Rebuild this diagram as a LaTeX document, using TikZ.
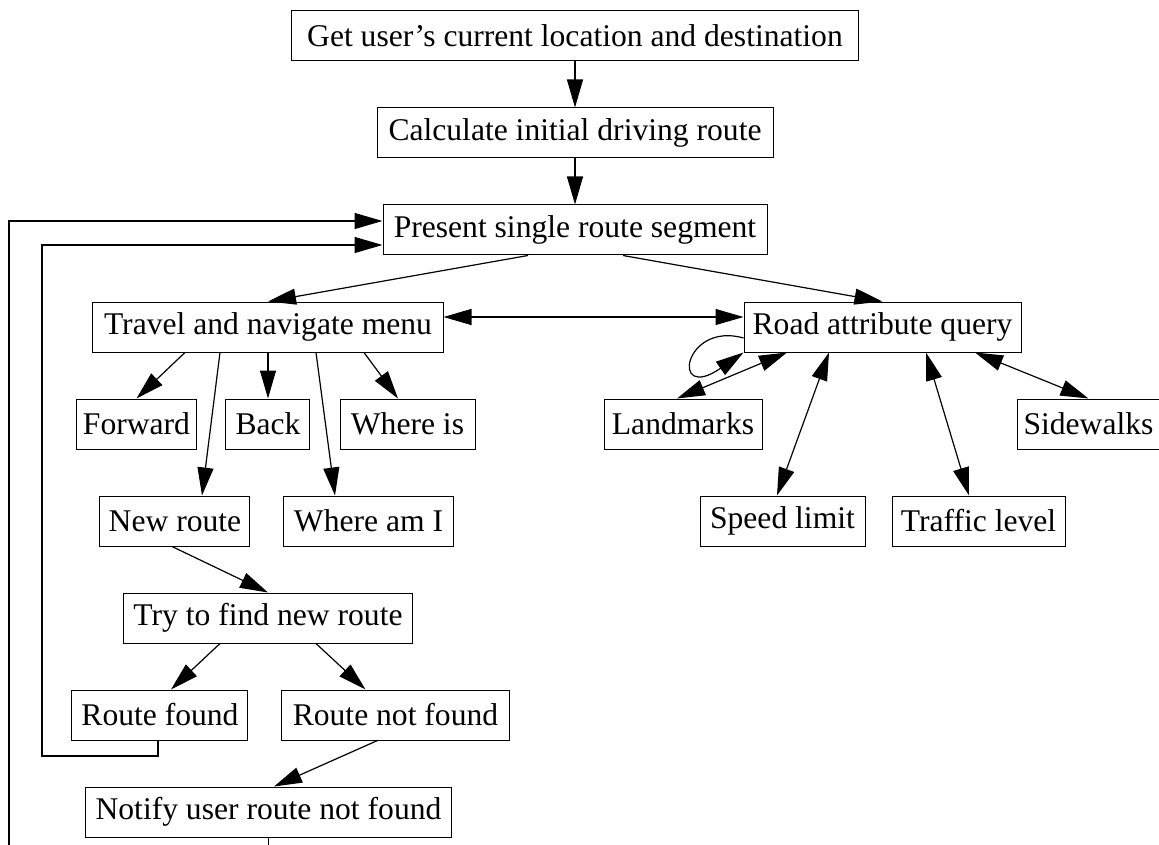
\documentclass[tikz,border=0pt]{standalone}
\usepackage{fontspec}
\setmainfont{Liberation Serif}
\usetikzlibrary{positioning,arrows.meta}

\begin{document}
\begin{tikzpicture}[
    node distance=23pt,
    box/.style={draw, rectangle, line width=0.5pt, minimum height=25pt,
      inner xsep=3pt, inner ysep=2pt, font=\fontsize{15.8}{19}\selectfont},
    arr/.style={line width=0.6pt, -{Triangle[length=14pt,width=8pt]}},
    darr/.style={line width=0.6pt, {Triangle[length=14pt,width=8pt]}-{Triangle[length=14pt,width=8pt]}},
  ]

    \path[use as bounding box, clip] (-287.5pt,18pt) rectangle (292pt,-404pt);

    % Define nodes
    \node[box, minimum width=283pt]                                (get) {Get user's current location and destination};
    \node[box, minimum width=198pt, below=of get]                  (calc) {Calculate initial driving route};
    \node[box, minimum width=192pt, below=of calc]                 (present) {Present single route segment};

    \node[box, minimum width=175pt, below=of present, xshift=-153.5pt] (travel) {Travel and navigate menu};
    \node[box, minimum width=138.5pt, below=of present, xshift=153.75pt] (road) {Road attribute query};

    \node[box, minimum width=59.5pt, below=of travel, xshift=-65.75pt] (fwd) {Forward};
    \node[box, minimum width=42pt, below=of travel]                (back) {Back};
    \node[box, minimum width=67.5pt, below=of travel, xshift=69.75pt] (whereis) {Where is};

    \node[box, minimum width=79pt, below=of road, xshift=-99.75pt] (lm) {Landmarks};
    \node[box, minimum width=70.5pt, below=of road, xshift=103pt]  (sw) {Sidewalks};

    \node[box, minimum width=75pt, below=of fwd, xshift=19.25pt]   (newr) {New route};
    \node[box, minimum width=84.5pt, below=of back, xshift=50.25pt] (whereami) {Where am I};

    \node[box, minimum width=82.5pt, below=of lm, xshift=49.75pt]  (speed) {Speed limit};
    \node[box, minimum width=86.5pt, below=of lm, xshift=147.75pt] (traffic) {Traffic level};

    \node[box, minimum width=144pt, below=of newr, xshift=46.5pt]  (try) {Try to find new route};
    \node[box, minimum width=88pt, below=of try, xshift=-54pt]     (found) {Route found};
    \node[box, minimum width=113.5pt, below=of try, xshift=63.75pt] (notfound) {Route not found};
    \node[box, minimum width=182.5pt, below=of found, xshift=54.25pt] (notify) {Notify user route not found};

    \coordinate (inner) at (-266.5pt,-360pt);
    \coordinate (outer) at (-283pt,-412pt);

    % Connect the nodes
    \draw[arr] (get) -- (calc);
    \draw[arr] (calc) -- (present);
    \draw[arr] ([xshift=-23.5pt]present.south) -- (travel.north);
    \draw[arr] ([xshift=24pt]present.south) -- (road.north);
    \draw[darr] ([yshift=5pt]travel.east) -- ([yshift=5pt]road.west);

    \draw[arr] ([xshift=-41.5pt]travel.south) -- (fwd.north);
    \draw[arr] (travel.south) -- (back.north);
    \draw[arr] ([xshift=48pt]travel.south) -- ([xshift=-4.75pt]whereis.north);
    \draw[arr] ([xshift=-24pt]travel.south) -- ([xshift=13.5pt]newr.north);
    \draw[arr] ([xshift=24pt]travel.south) -- ([xshift=-16.75pt]whereami.north);

    \draw[arr] ([yshift=-5.5pt]road.west) .. controls +(-30pt,8.5pt) and +(-37pt,-25.5pt) .. (road.south west);
    \draw[darr] ([xshift=-47.75pt]road.south) -- ([xshift=-3pt]lm.north);
    \draw[darr] ([xshift=-26.75pt]road.south) -- ([xshift=-2.75pt]speed.north);
    \draw[darr] ([xshift=21.75pt]road.south) -- ([xshift=-4.75pt]traffic.north);
    \draw[darr] ([xshift=46.25pt]road.south) -- (sw.north);

    \draw[arr] ([xshift=-1.5pt]newr.south) -- (try.north);
    \draw[arr] ([xshift=-24pt]try.south) -- ([xshift=5.5pt]found.north);
    \draw[arr] ([xshift=24pt]try.south) -- ([xshift=-15pt]notfound.north);
    \draw[arr] ([xshift=-9pt]notfound.south) -- ([xshift=2.75pt]notify.north);

    % Loops back to the route segment
    \draw[arr] ([xshift=-1pt]found.south) |- (inner) |- ([yshift=-7.5pt]present.west);
    \draw[arr] (notify.south) |- (outer) |- ([yshift=4.5pt]present.west);

\end{tikzpicture}
\end{document}
